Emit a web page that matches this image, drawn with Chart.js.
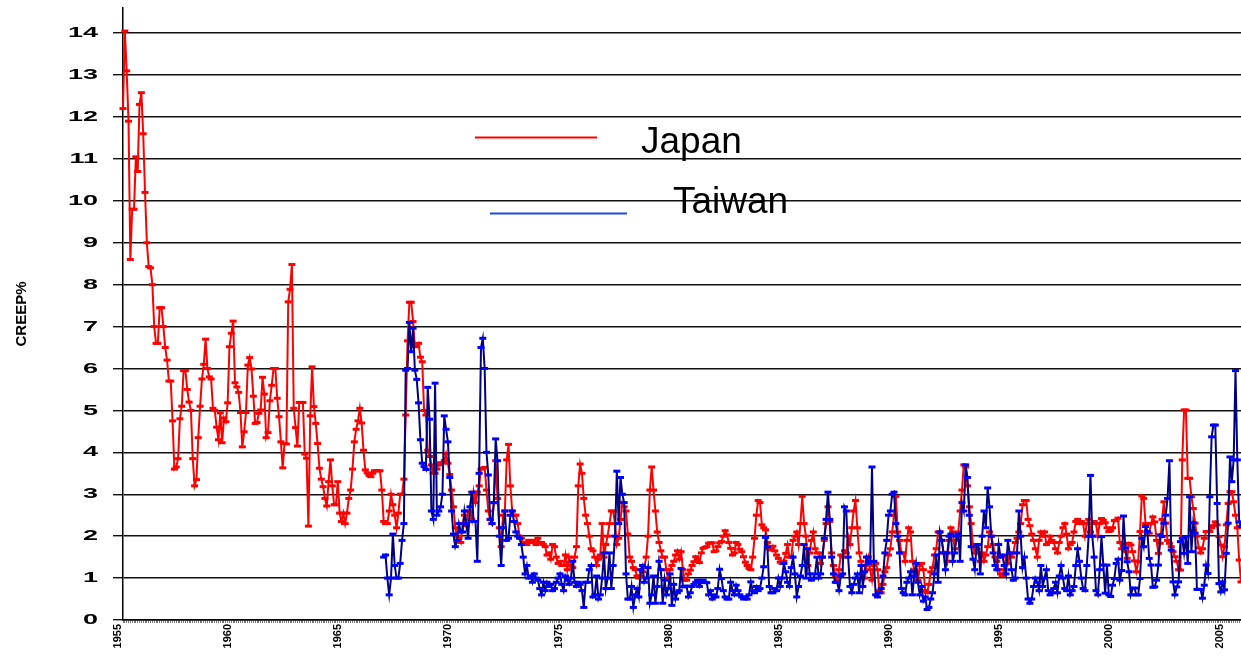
<!DOCTYPE html>
<html>
<head>
<meta charset="utf-8">
<script src="https://cdn.jsdelivr.net/npm/chart.js@4.4.0/dist/chart.umd.min.js"></script>
<style>
  html, body { margin: 0; padding: 0; background: #ffffff; }
  canvas { display: block; }
</style>
</head>
<body>
<canvas id="chart" width="1241" height="658"></canvas>
<script>
// Monthly readings, January 1955 onward (one row per year)
const japan = [
  12.2, 14.05, 13.1, 11.9, 8.6, 9.8, 9.8, 11.05, 10.7, 12.3, 12.58, 11.6,
  10.2, 9.0, 8.43, 8.4, 8.0, 7.0, 6.6, 6.6, 7.45, 7.45, 7.0, 6.5,
  6.2, 5.7, 5.7, 4.75, 3.6, 3.65, 3.85, 4.8, 5.1, 5.95, 5.95, 5.5,
  5.2, 5.0, 3.85, 3.2, 3.35, 4.35, 5.1, 5.75, 6.1, 6.7, 6.0, 5.8,
  5.75, 5.05, 5.0, 4.6, 4.3, 4.94, 4.23, 4.82, 4.73, 5.18, 6.52, 6.84,
  7.13, 5.66, 5.56, 5.43, 4.95, 4.13, 4.49, 4.95, 6.08, 6.26, 5.99, 5.34,
  4.69, 4.71, 4.93, 5.01, 5.79, 5.39, 4.35, 4.47, 5.23, 5.6, 6.0, 6.0,
  5.29, 4.85, 4.25, 3.63, 4.21, 4.2, 7.59, 7.89, 8.48, 5.05, 4.59, 4.15,
  5.19, 5.19, 5.19, 3.96, 3.86, 2.24, 4.87, 6.04, 5.09, 4.69, 4.21, 3.62,
  3.36, 3.18, 2.9, 2.72, 3.3, 3.82, 3.2, 2.75, 2.75, 3.3, 2.55, 2.35,
  2.55, 2.3, 2.55, 2.9, 3.1, 3.6, 4.25, 4.55, 4.75, 5.05, 4.7, 4.05,
  3.58, 3.51, 3.45, 3.42, 3.5, 3.56, 3.56, 3.56, 3.56, 3.1, 2.35, 2.3,
  2.3, 2.6, 3.0, 2.75, 2.5, 2.2, 2.55, 3.0, 3.0, 3.36, 4.89, 6.66,
  7.58, 7.58, 7.12, 6.52, 6.53, 6.6, 6.27, 6.16, 5.0, 4.89, 4.05, 3.9,
  3.7, 3.51, 3.5, 3.6, 3.7, 3.75, 3.75, 3.8, 3.97, 3.74, 3.47, 3.1,
  2.7, 2.2, 2.0, 1.95, 1.85, 2.3, 2.5, 2.25, 2.6, 2.6, 2.4, 3.05,
  2.8, 3.05, 3.2, 3.6, 3.62, 3.64, 3.1, 2.6, 2.4, 2.3, 2.8, 3.8,
  2.9, 2.2, 1.75, 2.5, 2.6, 3.82, 4.19, 3.2, 2.6, 2.5, 2.5, 2.3,
  2.0, 1.95, 1.85, 1.85, 1.8, 1.9, 1.85, 1.9, 1.85, 1.8, 1.95, 1.85,
  1.85, 1.8, 1.75, 1.55, 1.6, 1.45, 1.8, 1.75, 1.5, 1.35, 1.4, 1.3,
  1.3, 1.55, 1.2, 1.5, 1.3, 1.25, 1.5, 1.75, 3.2, 3.72, 3.5, 2.9,
  2.5, 2.3, 2.0, 1.7, 1.65, 1.5, 1.3, 1.45, 1.55, 2.3, 1.5, 1.8,
  2.0, 2.3, 2.6, 2.6, 2.3, 1.8, 1.95, 2.4, 2.8, 2.7, 2.6, 2.05,
  1.5, 1.4, 1.25, 1.2, 1.05, 1.0, 1.05, 1.15, 1.25, 1.5, 2.0, 3.1,
  3.65, 3.1, 2.6, 2.1, 1.85, 1.65, 1.5, 1.5, 1.2, 1.0, 1.2, 1.3,
  1.4, 1.55, 1.65, 1.45, 1.63, 1.2, 0.95, 0.95, 1.1, 1.19, 1.3, 1.39,
  1.51, 1.45, 1.37, 1.6, 1.71, 1.73, 1.75, 1.83, 1.84, 1.84, 1.63, 1.65,
  1.75, 1.84, 1.87, 2.0, 2.13, 2.03, 1.85, 1.71, 1.55, 1.6, 1.85, 1.8,
  1.69, 1.63, 1.51, 1.38, 1.3, 1.23, 1.2, 1.5, 1.95, 2.5, 2.85, 2.8,
  2.27, 2.2, 2.15, 1.85, 1.7, 1.67, 1.76, 1.65, 1.55, 1.47, 1.38, 1.35,
  1.4, 1.59, 1.8, 1.5, 1.5, 1.9, 2.0, 2.1, 1.8, 2.3, 2.95, 2.3,
  2.0, 1.3, 1.6, 1.9, 2.1, 1.7, 1.6, 1.6, 1.35, 1.5, 1.9, 2.3,
  2.7, 2.35, 1.6, 1.3, 1.05, 0.95, 1.2, 1.55, 1.5, 1.65, 1.6, 2.0,
  1.8, 2.2, 2.6, 2.85, 2.2, 1.6, 1.4, 1.1, 1.0, 1.3, 1.5, 1.2,
  0.95, 1.3, 1.35, 1.2, 0.7, 0.65, 0.85, 1.15, 1.25, 1.55, 1.7, 2.1,
  2.5, 2.95, 2.1, 1.9, 1.6, 1.6, 1.4, 1.9, 2.2, 2.1, 1.4, 1.2,
  1.1, 0.95, 1.3, 1.35, 1.2, 0.7, 0.65, 0.85, 1.15, 1.25, 1.55, 1.7,
  2.1, 2.1, 1.9, 1.6, 1.6, 1.4, 1.9, 2.2, 2.1, 1.7, 1.9, 2.1,
  2.6, 3.1, 3.7, 3.65, 3.2, 2.7, 2.3, 1.75, 1.6, 1.7, 1.6, 1.4,
  1.6, 1.4, 1.55, 1.75, 2.1, 2.0, 1.8, 1.5, 1.4, 1.2, 1.1, 1.05,
  1.2, 1.5, 1.35, 1.55, 1.5, 1.6, 1.85, 1.95, 2.1, 2.3, 2.75, 2.85,
  2.85, 2.4, 2.25, 2.05, 1.9, 1.7, 1.5, 1.9, 2.1, 2.0, 2.1, 1.8,
  1.85, 2.0, 1.9, 1.85, 1.7, 1.6, 1.85, 2.0, 2.2, 2.3, 2.05, 1.7,
  1.8, 1.85, 2.1, 2.35, 2.4, 2.3, 2.35, 2.3, 2.0, 2.3, 2.4, 2.1,
  2.3, 2.35, 2.3, 2.0, 2.3, 2.42, 2.38, 2.32, 2.2, 2.11, 2.13, 2.2,
  2.37, 2.38, 2.43, 1.85, 1.7, 1.8, 1.63, 1.47, 1.83, 1.79, 1.63, 1.41,
  1.15, 1.39, 2.11, 2.96, 2.9, 2.3, 2.1, 2.07, 2.3, 2.46, 2.34, 1.9,
  1.59, 1.83, 2.4, 2.82, 2.31, 1.9, 1.83, 1.75, 1.63, 1.51, 1.4, 1.2,
  1.19, 3.82, 5.01, 5.01, 3.38, 3.38, 2.94, 2.66, 2.31, 2.0, 1.72, 1.6,
  1.7, 1.95, 2.11, 2.11, 2.11, 2.2, 2.25, 2.34, 2.27, 1.99, 1.79, 1.51,
  1.75, 2.27, 2.78, 3.06, 3.06, 2.82, 2.5, 2.2, 1.43, 0.91
];

// Taiwan readings begin in November 1966
const taiwanStart = { year: 1966, month: 11 };
const taiwan = [
  1.5, 1.55,
  1.0, 0.6, 1.0, 2.05, 1.3, 1.0, 1.0, 1.35, 1.9, 2.3, 5.96, 6.0,
  7.1, 6.4, 6.96, 5.96, 5.74, 5.18, 4.3, 3.74, 3.66, 3.59, 5.55, 4.79,
  2.6, 2.4, 5.65, 2.5, 2.6, 2.7, 3.0, 4.87, 4.55, 4.25, 3.4, 2.6,
  2.05, 1.75, 1.9, 2.3, 2.1, 2.1, 2.6, 2.3, 1.95, 2.7, 3.05, 2.35,
  2.35, 1.4, 3.5, 6.5, 6.72, 6.0, 4.0, 3.46, 2.4, 2.3, 2.8, 4.32,
  3.8, 2.0, 1.3, 2.2, 2.6, 1.9, 1.95, 2.5, 2.6, 2.35, 2.1, 2.0,
  1.95, 1.8, 1.5, 1.1, 1.3, 1.0, 1.05, 0.9, 1.1, 1.0, 0.95, 0.75,
  0.6, 0.9, 0.7, 0.9, 0.8, 0.85, 0.7, 0.75, 0.9, 1.0, 1.1, 0.85,
  0.7, 1.05, 0.95, 0.85, 1.0, 1.4, 0.9, 0.8, 0.9, 0.85, 0.7, 0.3,
  0.9, 0.9, 1.2, 1.3, 0.55, 0.6, 1.05, 0.5, 0.6, 1.0, 1.6, 0.75,
  1.0, 1.6, 0.75, 1.3, 2.0, 3.55, 2.3, 3.4, 3.0, 2.8, 1.1, 0.5,
  0.5, 0.8, 0.3, 0.6, 0.75, 0.55, 1.2, 1.3, 0.9, 1.0, 1.25, 0.4,
  0.6, 1.05, 0.4, 0.8, 1.4, 1.2, 0.4, 0.95, 0.6, 0.75, 1.1, 0.35,
  0.85, 0.5, 0.65, 0.7, 1.23, 0.79, 0.8, 0.81, 0.55, 0.65, 0.8, 0.85,
  0.9, 0.95, 0.8, 0.9, 0.95, 0.9, 0.89, 0.6, 0.7, 0.5, 0.6, 0.55,
  0.75, 1.21, 0.99, 0.7, 0.55, 0.5, 0.5, 0.9, 0.7, 0.6, 0.83, 0.7,
  0.6, 0.55, 0.5, 0.55, 0.5, 0.6, 0.91, 0.7, 0.65, 0.8, 0.7, 0.75,
  1.0, 1.27, 1.97, 1.75, 0.8, 0.65, 0.65, 0.75, 0.7, 1.0, 0.8, 1.0,
  1.35, 1.15, 0.9, 0.8, 1.25, 1.5, 1.1, 0.55, 0.8, 1.05, 1.3, 1.8,
  1.0, 1.7, 1.1, 0.95, 1.0, 1.1, 1.5, 1.0, 1.1, 1.5, 1.95, 2.4,
  3.05, 2.4, 1.5, 1.1, 0.9, 0.9, 0.7, 1.05, 1.1, 2.7, 2.6, 1.5,
  0.8, 0.65, 0.85, 1.0, 1.1, 0.65, 1.3, 0.8, 1.15, 1.5, 1.35, 1.4,
  3.65, 1.4, 0.6, 0.55, 0.65, 0.75, 1.05, 1.6, 1.9, 2.5, 2.6, 3.0,
  3.05, 2.3, 2.0, 1.6, 0.75, 0.65, 0.6, 0.9, 1.0, 1.15, 0.6, 1.05,
  1.35, 0.9, 0.6, 0.8, 0.45, 0.55, 0.25, 0.3, 0.5, 0.65, 1.1, 1.55,
  0.9, 2.1, 1.9, 1.6, 1.2, 1.6, 2.0, 2.05, 1.4, 1.6, 2.0, 2.05,
  1.4, 2.8, 2.6, 3.7, 3.4, 2.5, 1.75, 1.45, 1.2, 1.8, 1.8, 1.1,
  2.0, 2.6, 2.2, 3.15, 2.7, 2.0, 1.6, 1.3, 1.2, 1.8, 1.5, 1.55,
  1.3, 1.1, 1.9, 1.6, 1.2, 0.95, 1.0, 1.6, 2.6, 2.0, 1.25, 1.5,
  1.0, 0.5, 0.4, 0.5, 0.8, 1.0, 0.9, 0.7, 1.3, 0.8, 1.0, 1.2,
  0.7, 0.6, 0.65, 0.75, 0.9, 0.65, 1.05, 1.3, 1.0, 0.75, 0.7, 1.05,
  0.6, 0.7, 0.8, 1.3, 1.7, 1.4, 1.0, 0.75, 0.7, 1.3, 2.0, 3.45,
  2.0, 1.5, 0.7, 0.6, 1.2, 1.99, 1.31, 0.64, 1.31, 0.6, 0.56, 0.83,
  0.99, 1.35, 1.45, 0.95, 1.18, 2.48, 1.72, 1.39, 1.15, 0.6, 0.76, 0.76,
  0.6, 0.6, 0.99, 1.95, 1.75, 2.23, 2.11, 1.47, 1.31, 0.78, 0.79, 0.95,
  1.31, 2.03, 1.99, 2.31, 2.5, 2.9, 3.8, 1.67, 0.91, 0.6, 0.79, 0.91,
  1.87, 1.95, 1.59, 1.99, 1.35, 2.94, 1.63, 2.32, 2.07, 0.73, 0.73, 0.73,
  0.52, 0.83, 1.31, 1.11, 2.94, 4.37, 4.65, 4.65, 2.78, 0.87, 0.67, 0.91,
  0.72, 1.59, 2.31, 3.89, 3.3, 3.82, 5.95, 3.82, 2.34, 2.23
];

const firstYear = 1955;
const yearLabels = ['1955', '1960', '1965', '1970', '1975', '1980', '1985', '1990', '1995', '2000', '2005'];
const yTickValues = [0, 1, 2, 3, 4, 5, 6, 7, 8, 9, 10, 11, 12, 13, 14];
const seriesNames = ['Japan', 'Taiwan'];
const yAxisTitle = 'CREEP%';

// Month labels "YYYY-MM" for the category axis
const monthLabels = japan.map((_, i) => {
  const y = firstYear + Math.floor(i / 12);
  const m = (i % 12) + 1;
  return y + '-' + String(m).padStart(2, '0');
});
const taiwanOffset = (taiwanStart.year - firstYear) * 12 + (taiwanStart.month - 1);
const taiwanSeries = monthLabels.map((_, i) =>
  i >= taiwanOffset && i - taiwanOffset < taiwan.length ? taiwan[i - taiwanOffset] : null);

const FONT = '"Liberation Sans", Arial, Helvetica, sans-serif';

// Wide bold value labels on the left and the floating legend
const decorations = {
  id: 'decorations',
  afterDraw(chart) {
    const ctx = chart.ctx;
    const ys = chart.scales.y;
    ctx.save();
    ctx.fillStyle = '#000000';
    ctx.font = 'bold 15px ' + FONT;
    ctx.textAlign = 'right';
    ctx.textBaseline = 'middle';
    const stretch = 1.8;
    yTickValues.forEach(v => {
      const py = ys.getPixelForValue(v);
      ctx.save();
      ctx.translate(98, py);
      ctx.scale(stretch, 1);
      ctx.fillText(String(v), 0, 0);
      ctx.restore();
    });

    // legend
    ctx.lineWidth = 2;
    ctx.strokeStyle = '#ff0000';
    ctx.beginPath();
    ctx.moveTo(475, 137.5);
    ctx.lineTo(597, 137.5);
    ctx.stroke();
    ctx.strokeStyle = '#1f4fd0';
    ctx.beginPath();
    ctx.moveTo(490, 213.5);
    ctx.lineTo(627, 213.5);
    ctx.stroke();
    ctx.font = '37px ' + FONT;
    ctx.textAlign = 'left';
    ctx.textBaseline = 'alphabetic';
    ctx.fillStyle = '#000000';
    ctx.fillText(seriesNames[0], 641, 153);
    ctx.fillText(seriesNames[1], 673, 213);
    ctx.restore();
  }
};

new Chart(document.getElementById('chart'), {
  type: 'line',
  data: {
    labels: monthLabels,
    datasets: [
      {
        label: seriesNames[1],
        data: taiwanSeries,
        borderColor: '#000080',
        borderWidth: 2,
        pointStyle: 'line',
        pointRadius: 3.5,
        pointBorderWidth: 3,
        pointBorderColor: '#0000ff',
        pointBackgroundColor: '#0000ff',
        tension: 0,
        spanGaps: false,
        clip: false
      },
      {
        label: seriesNames[0],
        data: japan,
        borderColor: '#ff0000',
        borderWidth: 2,
        pointStyle: 'line',
        pointRadius: 3.5,
        pointBorderWidth: 3,
        pointBorderColor: '#ff0000',
        pointBackgroundColor: '#ff0000',
        tension: 0,
        clip: false
      }
    ]
  },
  options: {
    responsive: false,
    animation: false,
    devicePixelRatio: 1,
    layout: { autoPadding: false, padding: { top: 8, right: 0, bottom: 0, left: 0 } },
    plugins: {
      legend: { display: false },
      tooltip: { enabled: false }
    },
    scales: {
      x: {
        type: 'category',
        offset: false,
        border: { display: true, color: '#000000', width: 1.5 },
        grid: {
          display: true,
          drawOnChartArea: false,
          drawTicks: true,
          tickLength: 3,
          color: '#777777',
          lineWidth: 1
        },
        ticks: {
          autoSkip: false,
          minRotation: 90,
          maxRotation: 90,
          padding: 1,
          labelOffset: -5,
          color: '#000000',
          font: { family: FONT, size: 11, weight: 'bold' },
          callback: (value, index) => index % 60 === 0 ? yearLabels[index / 60] : ''
        },
        afterFit: scale => {
          scale.height = 38;
          scale.paddingLeft = 0;
          scale.paddingRight = 0;
        }
      },
      y: {
        type: 'linear',
        min: 0,
        max: 14.6,
        border: { display: true, color: '#000000', width: 1.5 },
        grid: {
          color: '#111111',
          lineWidth: 1.4,
          tickLength: 10,
          drawTicks: true
        },
        ticks: {
          display: false,
          stepSize: 1,
          includeBounds: false
        },
        title: {
          display: true,
          text: yAxisTitle,
          color: '#000000',
          font: { family: FONT, size: 15, weight: 'bold' },
          padding: { top: 13, bottom: 0 }
        },
        afterFit: scale => {
          scale.width = 123;
          scale.paddingTop = 0;
          scale.paddingBottom = 0;
        }
      }
    }
  },
  plugins: [decorations]
});
</script>
</body>
</html>
